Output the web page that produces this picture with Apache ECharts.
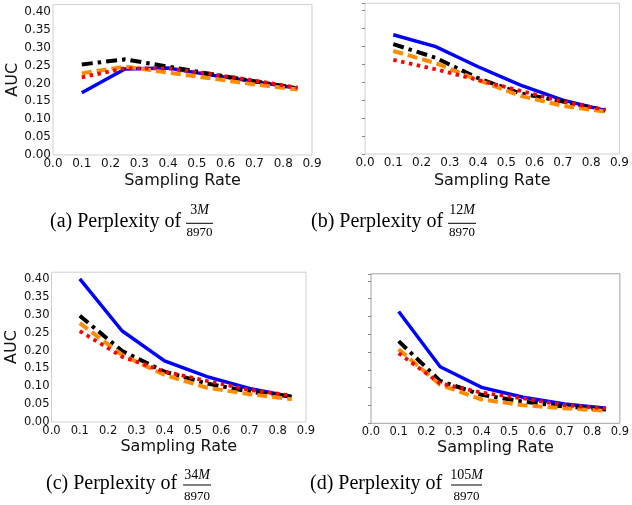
<!DOCTYPE html>
<html>
<head>
<meta charset="utf-8">
<script src="https://cdn.jsdelivr.net/npm/echarts@6/dist/echarts.min.js"></script>
<style>
html,body{margin:0;padding:0;background:#fff;}
#chart{width:632px;height:505px;}
</style>
</head>
<body>
<div id="chart"></div>
<script>
// Data
var samplingRates = [0.1, 0.25, 0.4, 0.55, 0.7, 0.85];
var xTicks = [0.0, 0.1, 0.2, 0.3, 0.4, 0.5, 0.6, 0.7, 0.8, 0.9];
var yTicks = [0.00, 0.05, 0.10, 0.15, 0.20, 0.25, 0.30, 0.35, 0.40];

var blueA   = [0.174, 0.240, 0.243, 0.223, 0.205, 0.186];
var blackA  = [0.253, 0.267, 0.247, 0.226, 0.206, 0.186];
var orangeA = [0.228, 0.247, 0.230, 0.214, 0.197, 0.183];
var redA    = [0.217, 0.242, 0.242, 0.226, 0.208, 0.188];

var blueB   = [0.332, 0.299, 0.243, 0.192, 0.150, 0.121];
var blackB  = [0.306, 0.268, 0.211, 0.169, 0.146, 0.121];
var orangeB = [0.287, 0.253, 0.206, 0.162, 0.134, 0.118];
var redB    = [0.262, 0.236, 0.206, 0.176, 0.146, 0.123];

var blueC   = [0.401, 0.255, 0.171, 0.127, 0.094, 0.071];
var blackC  = [0.298, 0.199, 0.141, 0.108, 0.085, 0.071];
var orangeC = [0.277, 0.188, 0.132, 0.096, 0.078, 0.064];
var redC    = [0.255, 0.183, 0.141, 0.115, 0.090, 0.074];

var blueD   = [0.314, 0.159, 0.101, 0.073, 0.054, 0.042];
var blackD  = [0.231, 0.119, 0.080, 0.061, 0.047, 0.039];
var orangeD = [0.208, 0.108, 0.067, 0.051, 0.042, 0.035];
var redD    = [0.197, 0.112, 0.086, 0.070, 0.051, 0.042];

var captionLabels = ['(a) Perplexity of', '(b) Perplexity of', '(c) Perplexity of', '(d) Perplexity of'];
var captionNumerators = ['3', '12', '34', '105'];
var captionDenominator = '8970';

var panels = [
  [blueA, blackA, orangeA, redA],
  [blueB, blackB, orangeB, redB],
  [blueC, blackC, orangeC, redC],
  [blueD, blackD, orangeD, redD]
];

// Layout
var grids = [
  {left: 53, top: 4.6, width: 259, height: 150.4, border: '#cfcfcf'},
  {left: 365, top: 3.2, width: 261, height: 150.8, border: '#cfcfcf'},
  {left: 51.5, top: 272.2, width: 254.5, height: 149.8, border: '#cfcfcf'},
  {left: 371, top: 273.8, width: 254, height: 149.5, border: '#a0a0a0'}
];
var showYLabels = [true, false, true, false];
var labelSize = [12, 12, 11.5, 11.5];
var xNameGap = [17.5, 18.5, 17, 16.5];
var yNameGap = [28.5, 28.5, 26.5, 26.5];

var styles = [
  {color: '#0000ff', type: 'solid', width: 3.5},
  {color: '#000000', type: [11, 5, 3.5, 5], width: 4},
  {color: '#ff8c00', type: [10, 5], width: 4},
  {color: '#ff0000', type: [3.5, 4.5], width: 3.8}
];

var gridOpt = [], xAxes = [], yAxes = [], series = [];
grids.forEach(function (g, i) {
  gridOpt.push({left: g.left, top: g.top, width: g.width, height: g.height,
    show: true, borderColor: g.border, borderWidth: 1, backgroundColor: 'transparent'});
  xAxes.push({
    type: 'value', gridIndex: i, min: 0, max: 0.9, interval: 0.1,
    name: 'Sampling Rate', nameLocation: 'middle', nameGap: xNameGap[i],
    nameTextStyle: {fontFamily: 'DejaVu Sans', fontSize: 16, color: '#111'},
    axisLine: {show: false}, axisTick: {show: false}, splitLine: {show: false},
    axisLabel: {margin: 3, fontFamily: 'DejaVu Sans', fontSize: labelSize[i], color: '#111',
      formatter: function (v) { return v.toFixed(1); }}
  });
  yAxes.push({
    type: 'value', gridIndex: i, min: 0, max: 0.42, interval: 0.05,
    name: showYLabels[i] ? 'AUC' : '', nameLocation: 'middle', nameGap: yNameGap[i],
    nameTextStyle: {fontFamily: 'DejaVu Sans', fontSize: 16, color: '#111'},
    axisLine: {show: false},
    axisTick: {show: !showYLabels[i], length: 3, lineStyle: {color: '#888'}},
    splitLine: {show: false},
    axisLabel: {show: showYLabels[i], margin: 2, fontFamily: 'DejaVu Sans', fontSize: labelSize[i], color: '#111',
      formatter: function (v) {
        for (var k = 0; k < yTicks.length; k++) { if (Math.abs(v - yTicks[k]) < 1e-6) return yTicks[k].toFixed(2); }
        return '';
      }}
  });
  panels[i].forEach(function (vals, s) {
    series.push({
      type: 'line', xAxisIndex: i, yAxisIndex: i, symbol: 'none', silent: true,
      data: samplingRates.map(function (x, k) { return [x, vals[k]]; }),
      lineStyle: {color: styles[s].color, width: styles[s].width, type: styles[s].type, cap: 'butt', join: 'miter'},
      z: 2 + s
    });
  });
});

// Captions
var captionPos = [
  {x: 50, y: 222, lx1: 186, lx2: 213, ly: 223.3, ny: 210.5, dy: 233},
  {x: 311, y: 222, lx1: 448, lx2: 476, ly: 223.3, ny: 210.5, dy: 233},
  {x: 46, y: 483.5, lx1: 183, lx2: 211, ly: 485, ny: 475, dy: 496.5},
  {x: 310, y: 483.5, lx1: 451, lx2: 482, ly: 485, ny: 475, dy: 496.5}
];
var graphics = [];
captionPos.forEach(function (p, i) {
  var cx = (p.lx1 + p.lx2) / 2;
  graphics.push({type: 'text', x: p.x, y: p.y, style: {
    text: captionLabels[i], align: 'left', verticalAlign: 'middle',
    fontFamily: 'Liberation Serif', fontSize: 20, fill: '#000'}});
  graphics.push({type: 'text', x: cx, y: p.ny, style: {
    text: '{n|' + captionNumerators[i] + '}{m|M}', align: 'center', verticalAlign: 'middle',
    rich: {n: {fontFamily: 'Liberation Serif', fontSize: 14, color: '#000'},
           m: {fontFamily: 'Liberation Serif', fontSize: 14, fontStyle: 'italic', color: '#000'}}}});
  graphics.push({type: 'line', shape: {x1: p.lx1, y1: p.ly, x2: p.lx2, y2: p.ly},
    style: {stroke: '#000', lineWidth: 1}});
  graphics.push({type: 'text', x: cx, y: p.dy, style: {
    text: captionDenominator, align: 'center', verticalAlign: 'middle',
    fontFamily: 'Liberation Serif', fontSize: 13, fill: '#000'}});
});

var chart = echarts.init(document.getElementById('chart'), null, {renderer: 'canvas'});
chart.setOption({
  animation: false,
  backgroundColor: '#fff',
  grid: gridOpt,
  xAxis: xAxes,
  yAxis: yAxes,
  series: series,
  graphic: graphics
});
</script>
</body>
</html>
